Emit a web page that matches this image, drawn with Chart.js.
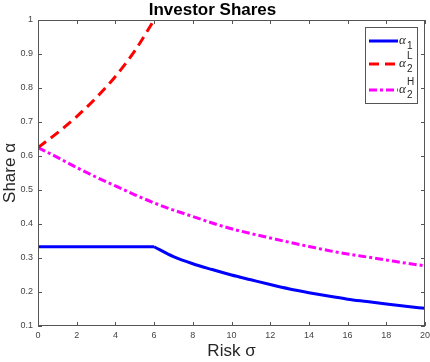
<!DOCTYPE html>
<html>
<head>
<meta charset="utf-8">
<script src="https://cdn.jsdelivr.net/npm/chart.js@4.4.1/dist/chart.umd.min.js"></script>
<style>
  html, body { margin: 0; padding: 0; background: #fff; }
  #wrap { width: 430px; height: 362px; }
</style>
</head>
<body>
<div id="wrap"><canvas id="myChart" width="430" height="362"></canvas></div>
<script>
// risk sigma on the x axis
const sigma = [0, 1, 2, 3, 4, 5, 6, 7, 8, 9, 10, 11, 12, 13, 14, 15, 16, 17, 18, 19, 20];

// share alpha_1 (blue, solid), flat up to sigma = 6
const alpha1 = [0.333, 0.333, 0.333, 0.333, 0.333, 0.333, 0.333, 0.304, 0.283, 0.266, 0.25,
                0.236, 0.222, 0.209, 0.198, 0.188, 0.179, 0.172, 0.165, 0.158, 0.152];
// share alpha_2^L (red, dashed), only up to sigma = 6
const alpha2L = [0.625, 0.668, 0.716, 0.771, 0.834, 0.909, 1.0];
// share alpha_2^H (magenta, dash-dot)
const alpha2H = [0.625, 0.596, 0.566, 0.538, 0.512, 0.486, 0.462, 0.441, 0.422, 0.403, 0.386,
                 0.372, 0.359, 0.346, 0.334, 0.322, 0.312, 0.303, 0.294, 0.285, 0.277];

const xTicks = [0, 2, 4, 6, 8, 10, 12, 14, 16, 18, 20];
const yTicks = [0.1, 0.2, 0.3, 0.4, 0.5, 0.6, 0.7, 0.8, 0.9, 1];

const toPoints = (ys, from) => ys.map((y, i) => ({ x: sigma[i + (from || 0)], y: y }));

const axisColor = '#555';
const textColor = '#262626';

// MATLAB style box: ticks pointing inward on all four sides
const boxPlugin = {
    id: 'box',
    afterDraw(chart) {
        const { ctx, chartArea: a, scales } = chart;
        ctx.save();
        ctx.strokeStyle = axisColor;
        ctx.lineWidth = 1;
        ctx.strokeRect(a.left + 0.5, a.top + 0.5, a.right - a.left - 1, a.bottom - a.top - 1);
        ctx.beginPath();
        xTicks.forEach(v => {
            const px = Math.round(scales.x.getPixelForValue(v)) + 0.5;
            ctx.moveTo(px, a.bottom); ctx.lineTo(px, a.bottom - 4);
            ctx.moveTo(px, a.top); ctx.lineTo(px, a.top + 4);
        });
        yTicks.forEach(v => {
            const py = Math.round(scales.y.getPixelForValue(v)) + 0.5;
            ctx.moveTo(a.left, py); ctx.lineTo(a.left + 4, py);
            ctx.moveTo(a.right, py); ctx.lineTo(a.right - 4, py);
        });
        ctx.stroke();
        ctx.restore();
    }
};

// legend with sub/superscripts
const legendPlugin = {
    id: 'texLegend',
    afterDraw(chart) {
        const { ctx } = chart;
        const bx = 365.5, by = 27.5, bw = 52, bh = 76;
        ctx.save();
        ctx.fillStyle = '#fff';
        ctx.fillRect(bx, by, bw, bh);
        ctx.strokeStyle = axisColor;
        ctx.lineWidth = 1;
        ctx.strokeRect(bx, by, bw, bh);
        const rows = [
            { y: 41, color: '#0000ff', dash: [], sub: '1', sup: '' },
            { y: 64, color: '#ff0000', dash: [10, 6], sub: '2', sup: 'L' },
            { y: 90, color: '#ff00ff', dash: [8, 3, 3, 3], sub: '2', sup: 'H' }
        ];
        rows.forEach(r => {
            ctx.strokeStyle = r.color;
            ctx.lineWidth = 3;
            ctx.setLineDash(r.dash);
            ctx.beginPath();
            ctx.moveTo(369, r.y);
            ctx.lineTo(398, r.y);
            ctx.stroke();
            ctx.setLineDash([]);
            ctx.fillStyle = textColor;
            ctx.textBaseline = 'middle';
            ctx.font = 'italic 13px "Liberation Serif"';
            ctx.fillText('α', 399, r.y);
            ctx.font = '10px "Liberation Sans"';
            ctx.fillText(r.sub, 407, r.y + 5);
            if (r.sup) ctx.fillText(r.sup, 407, r.y - 8);
        });
        ctx.restore();
    }
};

const lineBase = { borderWidth: 3, pointRadius: 0 };

const myChart = new Chart(document.getElementById('myChart').getContext('2d'), {
    type: 'line',
    data: {
        datasets: [
            // alpha_1 drawn in two pieces so the kink at sigma = 6 stays sharp
            { ...lineBase, label: 'α1', data: toPoints(alpha1.slice(0, 7)), borderColor: '#0000ff', tension: 0 },
            { ...lineBase, label: 'α1', data: toPoints(alpha1.slice(6), 6), borderColor: '#0000ff', cubicInterpolationMode: 'monotone' },
            { ...lineBase, label: 'α2L', data: toPoints(alpha2L), borderColor: '#ff0000', borderDash: [10, 6], cubicInterpolationMode: 'monotone' },
            { ...lineBase, label: 'α2H', data: toPoints(alpha2H), borderColor: '#ff00ff', borderDash: [8, 3, 3, 3], cubicInterpolationMode: 'monotone' }
        ]
    },
    options: {
        responsive: false,
        animation: false,
        layout: { padding: { left: 0, right: 5, top: 0, bottom: 0 } },
        plugins: {
            legend: { display: false },
            tooltip: { enabled: false },
            title: {
                display: true,
                text: 'Investor Shares',
                color: '#000',
                font: { family: '"Liberation Sans"', size: 17, weight: 'bold', lineHeight: 1.0 },
                padding: { top: 2, bottom: 1 }
            }
        },
        scales: {
            x: {
                type: 'linear',
                min: 0,
                max: 20,
                afterFit: (s) => { s.height = 36; s.paddingLeft = 0; s.paddingRight = 0; },
                afterBuildTicks: (s) => { s.ticks = xTicks.map(v => ({ value: v })); },
                grid: { display: false, drawTicks: false },
                border: { display: false },
                ticks: {
                    padding: 4,
                    color: '#444',
                    font: { family: '"Liberation Sans"', size: 9 },
                    maxRotation: 0
                },
                title: {
                    display: true,
                    text: 'Risk σ',
                    color: textColor,
                    padding: 0,
                    font: { family: '"Liberation Sans"', size: 17 }
                }
            },
            y: {
                min: 0.1,
                max: 1,
                afterFit: (s) => { s.width = 38; s.paddingTop = 0; s.paddingBottom = 0; },
                afterBuildTicks: (s) => { s.ticks = yTicks.map(v => ({ value: v })); },
                grid: { display: false, drawTicks: false },
                border: { display: false },
                ticks: {
                    padding: 5,
                    color: '#444',
                    font: { family: '"Liberation Sans"', size: 9 },
                    callback: (v) => String(Math.round(v * 10) / 10)
                },
                title: {
                    display: true,
                    text: 'Share α',
                    color: textColor,
                    padding: 0,
                    font: { family: '"Liberation Sans"', size: 17 }
                }
            }
        }
    },
    plugins: [boxPlugin, legendPlugin]
});
</script>
</body>
</html>
